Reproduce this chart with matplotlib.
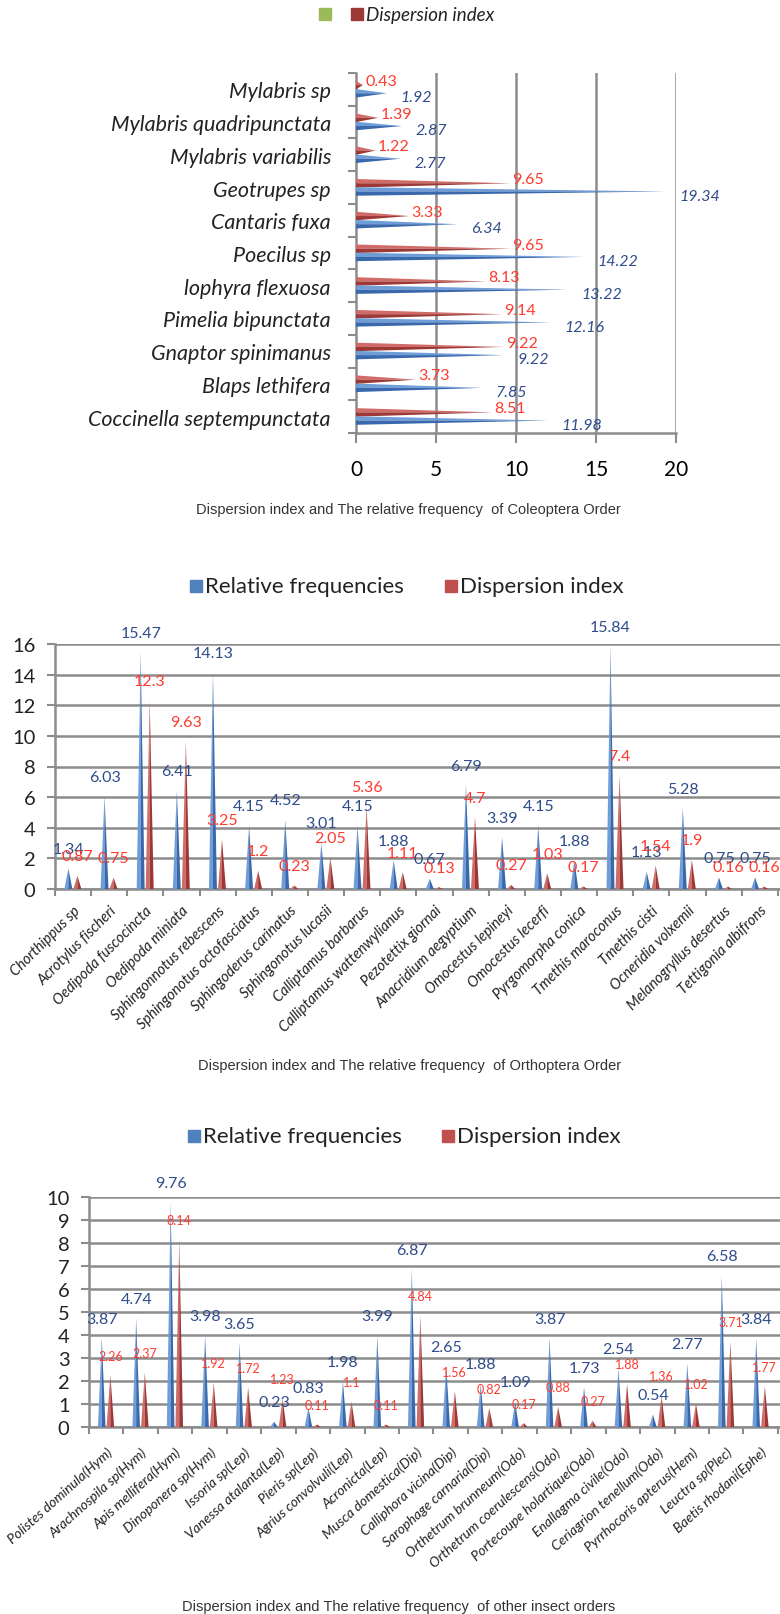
import numpy as np
import matplotlib
matplotlib.use('Agg')
import matplotlib.pyplot as plt
from matplotlib.patches import Rectangle

# Coleoptera (top to bottom)
col_species = ['Mylabris sp', 'Mylabris quadripunctata', 'Mylabris variabilis', 'Geotrupes sp',
               'Cantaris fuxa', 'Poecilus sp', 'lophyra flexuosa', 'Pimelia bipunctata',
               'Gnaptor spinimanus', 'Blaps lethifera', 'Coccinella septempunctata']
col_rel_freq = [1.92, 2.87, 2.77, 19.34, 6.34, 14.22, 13.22, 12.16, 9.22, 7.85, 11.98]
col_dispersion = [0.43, 1.39, 1.22, 9.65, 3.33, 9.65, 8.13, 9.14, 9.22, 3.73, 8.51]

# Orthoptera
orth_species = ['Chorthippus sp', 'Acrotylus fischeri', 'Oedipoda fuscocincta', 'Oedipoda miniata',
                'Sphingonnotus rebescens', 'Sphingonotus octofasciatus', 'Sphingoderus carinatus',
                'Sphingonotus lucasii', 'Calliptamus barbarus', 'Calliptamus wattenwylianus',
                'Pezotettix giornai', 'Anacridium aegyptium', 'Omocestus lepineyi', 'Omocestus lecerfi',
                'Pyrgomorpha conica', 'Tmethis maroconus', 'Tmethis cisti', 'Ocneridia volxemii',
                'Melanogryllus desertus', 'Tettigonia albifrons']
orth_rel_freq = [1.34, 6.03, 15.47, 6.41, 14.13, 4.15, 4.52, 3.01, 4.15, 1.88,
                 0.67, 6.79, 3.39, 4.15, 1.88, 15.84, 1.13, 5.28, 0.75, 0.75]
orth_dispersion = [0.87, 0.75, 12.3, 9.63, 3.25, 1.2, 0.23, 2.05, 5.36, 1.11,
                   0.13, 4.7, 0.27, 1.03, 0.17, 7.4, 1.54, 1.9, 0.16, 0.16]

# other orders
oth_species = ['Polistes dominula(Hym)', 'Arachnospila sp(Hym)', 'Apis mellifera(Hym)', 'Dinoponera sp(Hym)',
               'Issoria sp(Lep)', 'Vanessa atalanta(Lep)', 'Pieris sp(Lep)', 'Agrius convolvuli(Lep)',
               'Acronicta(Lep)', 'Musca domestica(Dip)', 'Calliphora vicina(Dip)', 'Sarophage carnaria(Dip)',
               'Orthetrum brunneum(Odo)', 'Orthetrum coerulescens(Odo)', 'Portecoupe holartique(Odo)',
               'Enallagma civile(Odo)', 'Ceriagrion tenellum(Odo)', 'Pyrrhocoris apterus(Hem)',
               'Leuctra sp(Plec)', 'Baetis rhodani(Ephe)']
oth_rel_freq = [3.87, 4.74, 9.76, 3.98, 3.65, 0.23, 0.83, 1.98, 3.99, 6.87,
                2.65, 1.88, 1.09, 3.87, 1.73, 2.54, 0.54, 2.77, 6.58, 3.84]
oth_dispersion = [2.26, 2.37, 8.14, 1.92, 1.72, 1.23, 0.11, 1.1, 0.11, 4.84,
                  1.56, 0.82, 0.17, 0.88, 0.27, 1.88, 1.36, 1.02, 3.71, 1.77]

W, H = 780, 1615
BLUE_L, BLUE_D = '#6E9DD8', '#3A68AC'
RED_L, RED_D = '#D06B67', '#9C3936'
GRID = '#8C8C8C'
BLUE_TXT = '#2F4C8C'
RED_TXT = '#FF3A2E'
FONT = 'Lato'

fig = plt.figure(figsize=(W / 100, H / 100), dpi=100)


def px_axes(left, top, right, bottom):
    return fig.add_axes([left / W, 1 - bottom / H, (right - left) / W, (bottom - top) / H])


def vcone(ax, x, v, hw, light, dark):
    ax.fill([x - hw, x, x], [0, v, 0], color=light, lw=0, zorder=3)
    ax.fill([x, x, x + hw], [0, v, 0], color=dark, lw=0, zorder=3)


def hcone(ax, y, v, hw, light, dark):
    ax.fill([0, v, 0], [y - hw, y, y], color=light, lw=0, zorder=3)
    ax.fill([0, v, 0], [y, y, y + hw], color=dark, lw=0, zorder=3)


def legend_item(x, y, color, text=None, size=16, style='normal'):
    fig.patches.append(Rectangle((x / W, 1 - (y + 6) / H), 12 / W, 12 / H,
                                 transform=fig.transFigure, color=color))
    if text:
        fig.text((x + 15) / W, 1 - y / H, text, fontsize=size, family=FONT, style=style,
                 va='center', ha='left', color='#222222')


# ---------- Coleoptera: horizontal cones ----------
ax1 = px_axes(356, 74, 676, 434)
n1 = len(col_species)
for i in range(n1):
    hcone(ax1, i - 0.13, col_dispersion[i], 0.13, RED_L, RED_D)
    hcone(ax1, i + 0.12, col_rel_freq[i], 0.13, BLUE_L, BLUE_D)
    ax1.annotate(f'{col_dispersion[i]:g}', (col_dispersion[i], i - 0.13), xytext=(13, 3),
                 textcoords='offset points', ha='center', va='center', color=RED_TXT,
                 fontsize=11.5, family=FONT, annotation_clip=False, zorder=5)
    ax1.annotate(f'{col_rel_freq[i]:g}', (col_rel_freq[i], i + 0.12), xytext=(10, -3),
                 textcoords='offset points', ha='left', va='center', color=BLUE_TXT,
                 fontsize=11.5, family=FONT, style='italic', annotation_clip=False, zorder=5)
ax1.set_xlim(0, 20)
ax1.set_ylim(n1 - 0.5, -0.5)
ax1.set_xticks([0, 5, 10, 15, 20])
ax1.set_xticklabels(['0', '5', '10', '15', '20'], fontsize=15, family=FONT)
for xv in [5, 10, 15, 20]:
    ax1.axvline(xv, color=GRID, lw=1.8, zorder=1)
ax1.set_yticks(range(n1))
ax1.set_yticklabels(col_species, fontsize=15.5, family=FONT, style='italic', color='#222222')
ax1.set_yticks(np.arange(-0.5, n1, 1), minor=True)
ax1.tick_params(axis='y', which='major', length=0, pad=18)
ax1.tick_params(axis='y', which='minor', length=6, color=GRID, width=1.5)
ax1.tick_params(axis='x', length=7, color=GRID, width=1.5, pad=12)
for s in ['top', 'right']:
    ax1.spines[s].set_visible(False)
for s in ['left', 'bottom']:
    ax1.spines[s].set_color(GRID)
    ax1.spines[s].set_linewidth(1.8)

legend_item(319, 15, '#9BBB59')
legend_item(351, 15, RED_D, 'Dispersion index', size=13.5, style='italic')
fig.text(408 / W, 1 - 510 / H, 'Dispersion index and The relative frequency  of Coleoptera Order',
         ha='center', va='center', fontsize=10.5, family='Liberation Sans', color='#333333')


# ---------- vertical cone charts ----------
def vertical_chart(ax, species, rel, disp, ymax, ystep, xmax, red_size, rot, pad, lab_size):
    n = len(species)
    x = np.arange(n)
    for i in range(n):
        vcone(ax, x[i] - 0.13, rel[i], 0.11, BLUE_L, BLUE_D)
        vcone(ax, x[i] + 0.12, disp[i], 0.11, RED_L, RED_D)
        ax.annotate(f'{rel[i]:g}', (x[i] - 0.13, rel[i]), xytext=(0, 14),
                    textcoords='offset points', ha='center', va='center', color=BLUE_TXT,
                    fontsize=11.5, family=FONT, annotation_clip=False, zorder=5)
        ax.annotate(f'{disp[i]:g}', (x[i] + 0.12, disp[i]), xytext=(0, 14),
                    textcoords='offset points', ha='center', va='center', color=RED_TXT,
                    fontsize=red_size, family=FONT, annotation_clip=False, zorder=5)
    ax.set_xlim(-0.5, xmax)
    ax.set_ylim(0, ymax)
    yt = np.arange(0, ymax + 0.01, ystep)
    ax.set_yticks(yt)
    ax.set_yticklabels([f'{v:g}' for v in yt], fontsize=14.5, family=FONT, color='#222222')
    for yv in yt:
        ax.axhline(yv, color=GRID, lw=1.8, zorder=1)
    ax.set_xticks(x)
    ax.set_xticklabels(species, rotation=rot, ha='right', va='top', rotation_mode='anchor',
                       fontsize=lab_size, family=FONT, style='italic', color='#222222')
    ax.set_xticks(np.arange(-0.5, n, 1), minor=True)
    ax.tick_params(axis='x', which='major', length=0, pad=pad)
    ax.tick_params(axis='x', which='minor', length=5, color=GRID, width=1.5)
    ax.tick_params(axis='y', length=6, color=GRID, width=1.5, pad=8)
    for s in ['top', 'right']:
        ax.spines[s].set_visible(False)
    for s in ['left', 'bottom']:
        ax.spines[s].set_color(GRID)
        ax.spines[s].set_linewidth(1.8)


ax2 = px_axes(55, 645, 780, 890)
vertical_chart(ax2, orth_species, orth_rel_freq, orth_dispersion, 16, 2, 19.56, 11.5, 45, 10, 10.5)
legend_item(190, 587, '#4F81BD', 'Relative frequencies')
legend_item(445, 587, '#C0504D', 'Dispersion index')
fig.text(410 / W, 1 - 1066 / H, 'Dispersion index and The relative frequency  of Orthoptera Order',
         ha='center', va='center', fontsize=10.5, family='Liberation Sans', color='#333333')

ax3 = px_axes(89, 1198, 780, 1428)
vertical_chart(ax3, oth_species, oth_rel_freq, oth_dispersion, 10, 1, 19.56, 9, 42, 13, 10)
legend_item(188, 1137, '#4F81BD', 'Relative frequencies')
legend_item(442, 1137, '#C0504D', 'Dispersion index')
fig.text(399 / W, 1 - 1607 / H, 'Dispersion index and The relative frequency  of other insect orders',
         ha='center', va='center', fontsize=10.5, family='Liberation Sans', color='#333333')

fig.savefig('out.png', dpi=100)
